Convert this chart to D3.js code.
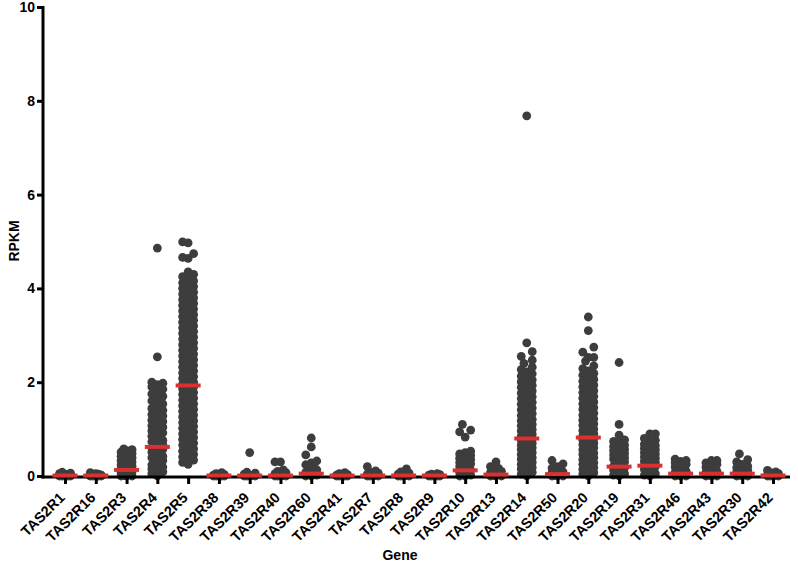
<!DOCTYPE html>
<html>
<head>
<meta charset="utf-8">
<script src="https://cdn.jsdelivr.net/npm/d3@7"></script>
<style>
  body { margin: 0; background: #fff; }
  svg text { font-family: "Liberation Sans", Arial, sans-serif; font-weight: bold; }
</style>
</head>
<body>
<svg width="798" height="574"></svg>
<script>
//****************************************************************************************
// Data (RPKM per sample, one array per gene)
//****************************************************************************************
var genes = ["TAS2R1","TAS2R16","TAS2R3","TAS2R4","TAS2R5","TAS2R38","TAS2R39","TAS2R40",
             "TAS2R60","TAS2R41","TAS2R7","TAS2R8","TAS2R9","TAS2R10","TAS2R13","TAS2R14",
             "TAS2R50","TAS2R20","TAS2R19","TAS2R31","TAS2R46","TAS2R43","TAS2R30","TAS2R42"];

var medians = [0.01,0.01,0.13,0.62,1.93,0.01,0.01,0.01,0.05,0.01,0.01,0.01,0.01,0.12,0.03,0.8,
               0.04,0.82,0.2,0.22,0.05,0.05,0.05,0.01];

var yTicks = [0, 2, 4, 6, 8, 10];

var vTAS2R1  = [0,0,0,0,0,0.01,0.01,0.02,0.02,0.03,0.04,0.05,0.06,0.08];
var vTAS2R16 = [0,0,0,0,0,0.01,0.01,0.02,0.03,0.04,0.05,0.07];
var vTAS2R3  = [0,0,0,0.01,0.03,0.05,0.07,0.09,0.11,0.13,0.15,0.18,0.21,0.24,0.27,0.3,0.33,
                0.36,0.39,0.42,0.45,0.48,0.51,0.54,0.56,0.58];
var vTAS2R4  = [0,0.05,0.09,0.12,0.15,0.19,0.21,0.24,0.28,0.3,0.33,0.37,0.39,0.42,0.46,0.48,
                0.51,0.55,0.57,0.6,0.62,0.64,0.67,0.71,0.73,0.76,0.8,0.82,0.85,0.89,0.92,0.96,
                1.0,1.04,1.07,1.12,1.16,1.19,1.24,1.28,1.31,1.36,1.4,1.44,1.5,1.54,1.6,1.64,
                1.7,1.75,1.79,1.85,1.9,1.95,1.98,2.0,2.54,4.86];
var vTAS2R5  = [0.25,0.29,0.34,0.37,0.41,0.46,0.49,0.53,0.58,0.61,0.66,0.7,0.73,0.78,0.82,
                0.85,0.9,0.94,0.97,1.02,1.06,1.09,1.14,1.18,1.21,1.26,1.3,1.33,1.38,1.42,1.45,
                1.5,1.54,1.57,1.62,1.66,1.69,1.74,1.78,1.81,1.86,1.9,1.93,1.96,2.0,2.03,2.08,
                2.12,2.15,2.2,2.24,2.27,2.32,2.36,2.39,2.44,2.48,2.51,2.56,2.6,2.63,2.68,2.72,
                2.75,2.8,2.84,2.87,2.92,2.96,2.99,3.04,3.08,3.11,3.16,3.2,3.23,3.28,3.32,3.35,
                3.4,3.44,3.47,3.52,3.56,3.59,3.64,3.68,3.71,3.76,3.8,3.83,3.88,3.92,3.95,4.0,
                4.04,4.08,4.12,4.16,4.2,4.25,4.3,4.35,4.64,4.66,4.74,4.97,4.99];
var vTAS2R38 = [0,0,0,0,0,0.01,0.02,0.03,0.05,0.07];
var vTAS2R39 = [0,0,0,0,0.01,0.02,0.04,0.06,0.08,0.5];
var vTAS2R40 = [0,0,0,0,0.01,0.03,0.05,0.07,0.1,0.13,0.3,0.3];
var vTAS2R60 = [0,0,0.02,0.04,0.06,0.08,0.1,0.13,0.16,0.2,0.24,0.28,0.32,0.45,0.62,0.81];
var vTAS2R41 = [0,0,0,0,0,0.01,0.02,0.03,0.05,0.07];
var vTAS2R7  = [0,0,0,0,0.01,0.02,0.04,0.06,0.08,0.11,0.2];
var vTAS2R8  = [0,0,0,0,0.01,0.02,0.04,0.06,0.09,0.15];
var vTAS2R9  = [0,0,0,0,0,0.01,0.02,0.03,0.04,0.05];
var vTAS2R10 = [0,0,0.02,0.04,0.06,0.08,0.1,0.12,0.14,0.17,0.2,0.23,0.26,0.29,0.32,0.35,0.38,
                0.41,0.44,0.47,0.5,0.53,0.83,0.94,0.98,1.1];
var vTAS2R13 = [0,0,0,0.01,0.03,0.05,0.07,0.1,0.13,0.16,0.2,0.3];
var vTAS2R14 = [0,0.04,0.08,0.11,0.15,0.18,0.22,0.25,0.29,0.32,0.36,0.39,0.43,0.46,0.5,0.53,
                0.57,0.6,0.63,0.66,0.7,0.73,0.76,0.79,0.82,0.85,0.89,0.92,0.96,0.99,1.03,1.07,
                1.1,1.14,1.18,1.21,1.25,1.29,1.33,1.37,1.41,1.45,1.49,1.53,1.57,1.61,1.65,1.69,
                1.73,1.77,1.81,1.85,1.89,1.93,1.97,2.01,2.05,2.09,2.13,2.18,2.22,2.27,2.32,2.4,
                2.47,2.55,2.65,2.84,7.68];
var vTAS2R50 = [0,0,0,0.01,0.03,0.05,0.07,0.09,0.11,0.14,0.17,0.2,0.26,0.33];
var vTAS2R20 = [0,0.04,0.07,0.11,0.14,0.18,0.21,0.25,0.28,0.32,0.35,0.39,0.42,0.46,0.49,0.53,
                0.56,0.6,0.63,0.67,0.7,0.74,0.77,0.8,0.83,0.86,0.9,0.93,0.97,1.0,1.04,1.08,1.11,
                1.15,1.19,1.22,1.26,1.3,1.34,1.38,1.42,1.46,1.5,1.54,1.58,1.62,1.66,1.7,1.74,
                1.78,1.82,1.86,1.9,1.94,1.98,2.02,2.06,2.1,2.15,2.19,2.24,2.29,2.35,2.45,2.53,
                2.53,2.64,2.75,3.1,3.39];
var vTAS2R19 = [0,0.02,0.05,0.08,0.1,0.13,0.16,0.18,0.21,0.24,0.27,0.3,0.33,0.36,0.39,0.42,
                0.45,0.48,0.51,0.54,0.57,0.6,0.63,0.66,0.7,0.74,0.77,0.87,1.1,2.42];
var vTAS2R31 = [0,0.02,0.05,0.08,0.11,0.14,0.17,0.2,0.23,0.26,0.29,0.32,0.35,0.38,0.41,0.44,
                0.47,0.5,0.53,0.56,0.59,0.62,0.65,0.68,0.72,0.76,0.8,0.9,0.9];
var vTAS2R46 = [0,0,0,0.02,0.04,0.06,0.08,0.1,0.13,0.16,0.19,0.22,0.25,0.28,0.31,0.33,0.36];
var vTAS2R43 = [0,0,0,0.02,0.04,0.06,0.08,0.1,0.13,0.16,0.19,0.22,0.25,0.28,0.33,0.33];
var vTAS2R30 = [0,0,0,0.02,0.04,0.06,0.09,0.12,0.15,0.18,0.21,0.25,0.3,0.35,0.47];
var vTAS2R42 = [0,0,0,0,0.01,0.02,0.03,0.05,0.07,0.09,0.12];

var values = [vTAS2R1,vTAS2R16,vTAS2R3,vTAS2R4,vTAS2R5,vTAS2R38,vTAS2R39,vTAS2R40,vTAS2R60,
              vTAS2R41,vTAS2R7,vTAS2R8,vTAS2R9,vTAS2R10,vTAS2R13,vTAS2R14,vTAS2R50,vTAS2R20,
              vTAS2R19,vTAS2R31,vTAS2R46,vTAS2R43,vTAS2R30,vTAS2R42];

//****************************************************************************************
// Scales
//****************************************************************************************
var svg = d3.select("svg");
var x = d3.scalePoint().domain(genes).range([65, 773]);
var y = d3.scaleLinear().domain([0, 10]).range([476, 7]);
var r = 4.4;
var dotColor = "#3d3d3d";
var redColor = "#d9312f";

//****************************************************************************************
// Column scatter layout: points spread sideways, width capped, overlap when crowded
//****************************************************************************************
function swarm(vals) {
  var offsets = [0, -5.5, 5.5, -2.8, 2.8];
  var placed = [];
  vals.slice().sort(d3.ascending).forEach(function(v) {
    var py = y(v), best = 0, bestD = -1;
    for (var k = 0; k < offsets.length; k++) {
      var minD = Infinity;
      placed.forEach(function(p) {
        var d = Math.hypot(p.dx - offsets[k], p.py - py);
        if (d < minD) minD = d;
      });
      if (minD >= 2 * r - 0.5) { best = offsets[k]; bestD = minD; break; }
      if (minD > bestD) { bestD = minD; best = offsets[k]; }
    }
    placed.push({v: v, dx: best, py: py});
  });
  return placed;
}

var points = [];
genes.forEach(function(g, i) {
  swarm(values[i]).forEach(function(p) {
    points.push({gene: g, v: p.v, dx: p.dx});
  });
});

//****************************************************************************************
// Dots
//****************************************************************************************
svg.append("g").selectAll("circle")
  .data(points)
  .enter().append("circle")
    .attr("cx", function(d) { return x(d.gene) + d.dx; })
    .attr("cy", function(d) { return y(d.v); })
    .attr("r", r)
    .attr("fill", dotColor);

//****************************************************************************************
// Axes
//****************************************************************************************
var yAxis = svg.append("g")
  .attr("transform", "translate(43,0)")
  .call(d3.axisLeft(y).tickValues(yTicks).tickSize(6).tickSizeOuter(0).tickPadding(2));
yAxis.select(".domain").remove();
yAxis.selectAll(".tick line").attr("stroke", "#000").attr("stroke-width", 3);
yAxis.selectAll(".tick text").style("font-size", "14px").attr("fill", "#000");
svg.append("line")
  .attr("x1", 43).attr("x2", 43).attr("y1", 6).attr("y2", 478.5)
  .attr("stroke", "#000").attr("stroke-width", 3);

var xAxis = svg.append("g")
  .attr("transform", "translate(0,477)")
  .call(d3.axisBottom(x).tickSize(7).tickSizeOuter(0).tickFormat(""));
xAxis.select(".domain").remove();
xAxis.selectAll(".tick line").attr("stroke", "#000").attr("stroke-width", 3);
svg.append("line")
  .attr("x1", 41.5).attr("x2", 790).attr("y1", 477).attr("y2", 477)
  .attr("stroke", "#000").attr("stroke-width", 3);

// rotated gene labels
svg.append("g").selectAll("text")
  .data(genes)
  .enter().append("text")
    .attr("transform", function(d) { return "translate(" + (x(d) - 3) + ",495) rotate(-45)"; })
    .attr("text-anchor", "end")
    .attr("dy", "0.35em")
    .style("font-size", "14.5px")
    .text(function(d) { return d; });

//****************************************************************************************
// Median lines
//****************************************************************************************
svg.append("g").selectAll("rect")
  .data(genes)
  .enter().append("rect")
    .attr("x", function(d) { return x(d) - 12.5; })
    .attr("y", function(d, i) { return y(medians[i]) - 2; })
    .attr("width", 25)
    .attr("height", 4)
    .attr("fill", redColor);

//****************************************************************************************
// Axis titles
//****************************************************************************************
svg.append("text")
  .attr("transform", "translate(19,241) rotate(-90)")
  .attr("text-anchor", "middle")
  .style("font-size", "14px")
  .text("RPKM");

svg.append("text")
  .attr("x", 400).attr("y", 560)
  .attr("text-anchor", "middle")
  .style("font-size", "14px")
  .text("Gene");
</script>
</body>
</html>
